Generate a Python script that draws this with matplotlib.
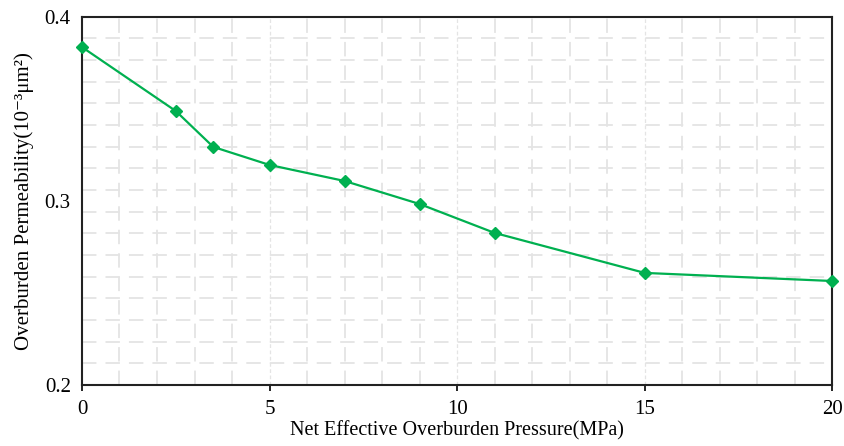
import numpy as np
import matplotlib
matplotlib.use("Agg")
import matplotlib.pyplot as plt

# data
pressure = [0, 2.5, 3.5, 5, 7, 9, 11, 15, 20]
permeability = [0.3834, 0.3487, 0.3292, 0.3194, 0.3107, 0.2982, 0.2825, 0.2608, 0.2564]
x_ticks = [0, 5, 10, 15, 20]
y_ticks = [0.2, 0.3, 0.4]

plt.rcParams['font.family'] = ['Liberation Serif', 'DejaVu Serif']

fig = plt.figure(figsize=(8.45, 4.46), dpi=100)
ax = fig.add_axes([0.097, 0.137, 0.888, 0.826])

# grid: minor every 1 MPa, fine dashed at the major x ticks
grid_col = '#e4e4e4'
for xv in range(1, 20):
    if xv % 5 == 0:
        ax.axvline(xv, color=grid_col, lw=0.9, ls=(0, (3, 2)), zorder=0)
    else:
        ax.axvline(xv, color=grid_col, lw=1.3, ls=(0, (8, 5)), zorder=0)
for k in range(1, 17):
    ax.axhline(0.2 + k * 0.2 / 17, color=grid_col, lw=1.3, ls=(0, (8, 5)), zorder=0)

ax.plot(pressure, permeability, color='#00b050', lw=1.6, marker='D', ms=6.5,
        clip_on=False, zorder=3)

ax.set_xlim(0, 20)
ax.set_ylim(0.2, 0.4)
ax.set_xticks(x_ticks)
ax.set_yticks(y_ticks)
ax.set_yticklabels(['0.2', '0.3', '0.4'])
ax.tick_params(axis='both', labelsize=15, length=4, width=1.2, direction='out')
ax.tick_params(axis='x', pad=7)
ax.tick_params(axis='y', left=False, pad=4)

for s in ax.spines.values():
    s.set_linewidth(1.5)
    s.set_color('#222222')

ax.set_xlabel('Net Effective Overburden Pressure(MPa)', fontsize=14.5, labelpad=1)
ax.set_ylabel('Overburden Permeability(10⁻³μm²)', fontsize=15, labelpad=8)

fig.savefig('out.png', dpi=100)
